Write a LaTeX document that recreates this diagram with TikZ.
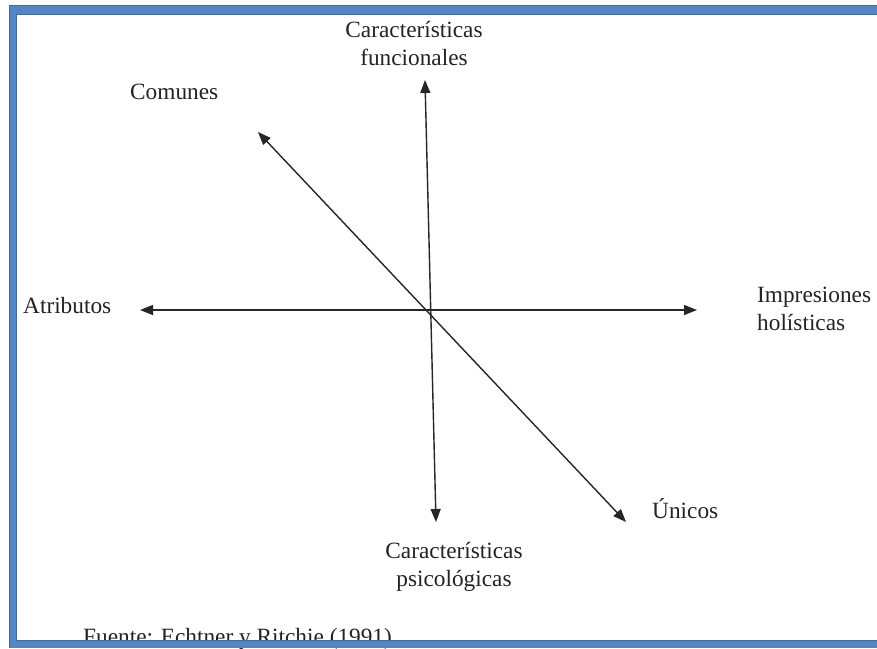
\documentclass[tikz,border=0pt]{standalone}
\usepackage{fontspec}
\setmainfont{Liberation Serif}
\usetikzlibrary{arrows.meta}
\definecolor{frameblue}{RGB}{84,134,196}
\definecolor{frameedge}{RGB}{70,105,150}
\definecolor{textgray}{RGB}{35,35,35}
\tikzset{
  lbl/.style={font=\fontsize{23.3}{28}\selectfont, text=textgray, inner sep=0pt},
  axis/.style={line width=1.4pt, black!85, {Triangle[length=13pt,width=10pt]}-{Triangle[length=13pt,width=10pt]}}
}
\begin{document}
\begin{tikzpicture}[x=1pt,y=-1pt]
\useasboundingbox (0,0) rectangle (877,648);
\fill[white] (0,0) rectangle (877,648);
% axis end points
\coordinate (vt) at (425,80);
\coordinate (vb) at (436,522);
\coordinate (hl) at (140,310);
\coordinate (hr) at (697,310);
\coordinate (dl) at (258,132);
\coordinate (dr) at (626,522);
\draw[axis] (vb) -- (vt);
\draw[axis] (hl) -- (hr);
\draw[axis] (dl) -- (dr);
% labels
\node[lbl, anchor=base, align=center] (func) at (414,65) {Características\\funcionales};
\node[lbl, anchor=base west] (comunes) at (130,99) {Comunes};
\node[lbl, anchor=base west] (atrib) at (23,313) {Atributos};
\node[lbl, anchor=base west, align=left] (impr) at (757,330) {Impresiones\\holísticas};
\node[lbl, anchor=base west] (unicos) at (652,518) {Únicos};
\node[lbl, anchor=base, align=center] (psico) at (454,586) {Características\\psicológicas};
\node[lbl, anchor=base west] (fuente) at (83,644) {Fuente: Echtner y Ritchie (1991)};
% frame
\fill[frameblue] (9,5) rectangle (17,648);
\fill[frameblue] (9,5) rectangle (880,15);
\fill[frameblue] (9,640) rectangle (880,648);
\draw[frameedge, line width=1pt] (9.5,648) -- (9.5,5.5) -- (880,5.5);
\draw[frameedge, line width=0.8pt] (880,640.5) -- (16.5,640.5) -- (16.5,14.5) -- (880,14.5);
\end{tikzpicture}
\end{document}
